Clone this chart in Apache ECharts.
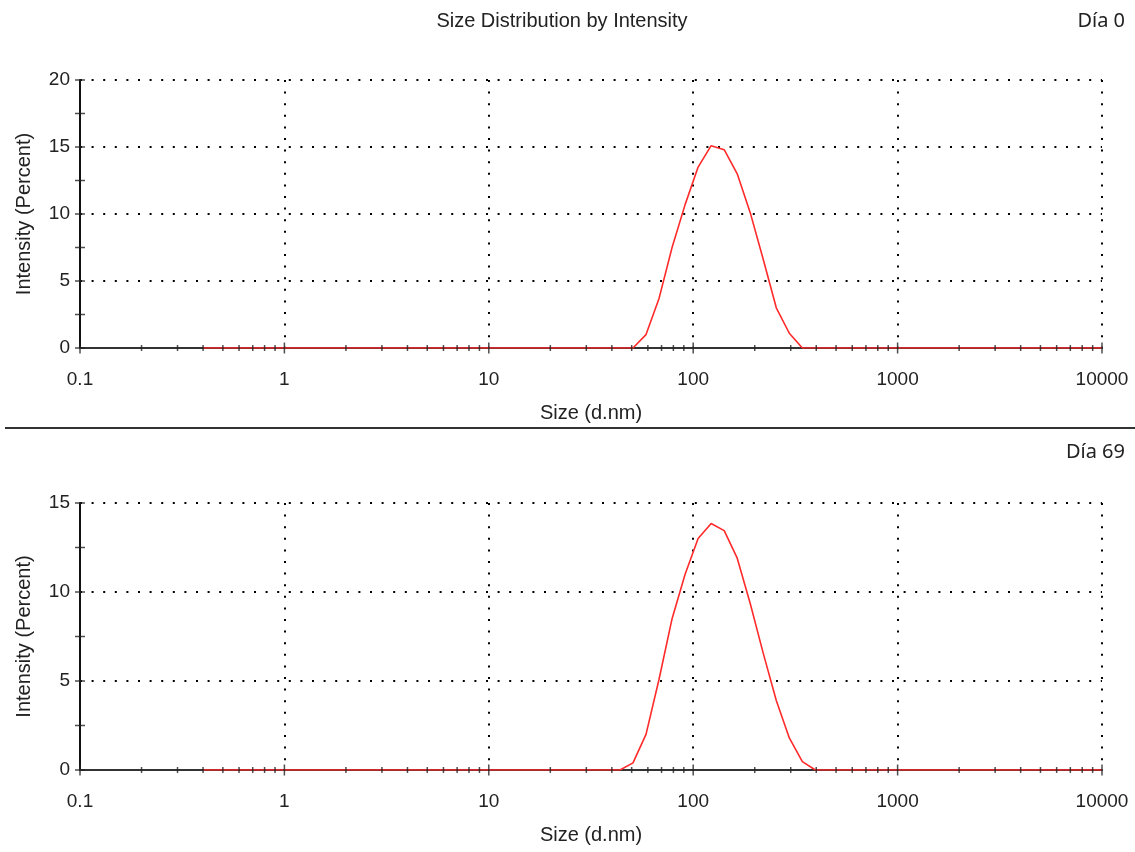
<!DOCTYPE html>
<html>
<head>
<meta charset="utf-8">
<title>Size Distribution by Intensity</title>
<script src="https://cdn.jsdelivr.net/npm/echarts@6/dist/echarts.min.js"></script>
<style>
  html, body { margin: 0; padding: 0; background: #fff; }
  #chart { width: 1135px; height: 852px; }
</style>
</head>
<body>
<div id="chart"></div>
<script>
// Zetasizer size classes (d.nm)
var sizeBins = [
  0.4, 0.4632, 0.5365, 0.6213, 0.7195, 0.8332, 0.9649, 1.117, 1.294, 1.499,
  1.736, 2.01, 2.328, 2.696, 3.122, 3.615, 4.187, 4.849, 5.615, 6.503,
  7.531, 8.721, 10.1, 11.7, 13.54, 15.69, 18.17, 21.04, 24.36, 28.21,
  32.67, 37.84, 43.82, 50.75, 58.77, 68.06, 78.82, 91.28, 105.7, 122.4,
  141.8, 164.2, 190.1, 220.2, 255.0, 295.3, 342.0, 396.1, 458.7, 531.2,
  615.1, 712.4, 825.0, 955.4, 1106, 1281, 1484, 1718, 1990, 2305,
  2669, 3091, 3580, 4145, 4801, 5560, 6439, 7456, 8635, 10000
];

// intensity (%) per size class
var intensityDay0 = [
  0, 0, 0, 0, 0, 0, 0, 0, 0, 0,
  0, 0, 0, 0, 0, 0, 0, 0, 0, 0,
  0, 0, 0, 0, 0, 0, 0, 0, 0, 0,
  0, 0, 0, 0, 1.0, 3.7, 7.5, 10.7, 13.5, 15.1,
  14.8, 13.0, 10.1, 6.6, 3.0, 1.1, 0, 0, 0, 0,
  0, 0, 0, 0, 0, 0, 0, 0, 0, 0,
  0, 0, 0, 0, 0, 0, 0, 0, 0, 0
];

var intensityDay69 = [
  0, 0, 0, 0, 0, 0, 0, 0, 0, 0,
  0, 0, 0, 0, 0, 0, 0, 0, 0, 0,
  0, 0, 0, 0, 0, 0, 0, 0, 0, 0,
  0, 0, 0, 0.4, 2.0, 5.1, 8.5, 11.0, 13.0, 13.85,
  13.45, 11.9, 9.35, 6.55, 3.9, 1.8, 0.47, 0, 0, 0,
  0, 0, 0, 0, 0, 0, 0, 0, 0, 0,
  0, 0, 0, 0, 0, 0, 0, 0, 0, 0
];

var xMajorTicks = [0.1, 1, 10, 100, 1000, 10000];
var xMinorTicks = [
  0.2, 0.3, 0.4, 0.5, 0.6, 0.7, 0.8, 0.9,
  2, 3, 4, 5, 6, 7, 8, 9,
  20, 30, 40, 50, 60, 70, 80, 90,
  200, 300, 400, 500, 600, 700, 800, 900,
  2000, 3000, 4000, 5000, 6000, 7000, 8000, 9000
];
var yTicksDay0 = [0, 2.5, 5, 7.5, 10, 12.5, 15, 17.5, 20];
var yTicksDay69 = [0, 2.5, 5, 7.5, 10, 12.5, 15];

var FONT = "'Liberation Sans', Arial, sans-serif";
var TEXT = "#222";

var dotted = { color: "#000", width: 2, type: [2, 9.6] };

function makeX(idx) {
  return {
    type: "log",
    logBase: 10,
    gridIndex: idx,
    min: 0.1,
    max: 10000,
    name: "Size (d.nm)",
    nameLocation: "middle",
    nameGap: 55,
    nameTextStyle: { fontFamily: FONT, fontSize: 20, color: TEXT },
    axisLine: { lineStyle: { color: "#333", width: 2 } },
    axisTick: { show: false },
    axisLabel: {
      fontFamily: FONT, fontSize: 19, color: TEXT, margin: 22,
      formatter: function (v) { return String(+Number(v).toPrecision(6)); }
    },
    splitLine: { show: true, lineStyle: dotted },
    minorTick: { show: false }
  };
}

function makeY(idx, max) {
  return {
    type: "value",
    gridIndex: idx,
    min: 0,
    max: max,
    interval: 5,
    name: "Intensity (Percent)",
    nameLocation: "middle",
    nameGap: 46,
    nameTextStyle: { fontFamily: FONT, fontSize: 20, color: TEXT },
    axisLine: { show: true, lineStyle: { color: "#111", width: 2 } },
    axisTick: { show: false },
    axisLabel: { fontFamily: FONT, fontSize: 19, color: TEXT, margin: 10 },
    splitLine: { show: true, lineStyle: dotted }
  };
}

function zip(xs, ys) {
  return xs.map(function (x, i) { return [x, ys[i]]; });
}

function tickSeries(idx, data, size) {
  return {
    type: "scatter",
    xAxisIndex: idx,
    yAxisIndex: idx,
    data: data,
    symbol: "rect",
    symbolSize: size,
    itemStyle: { color: "#222" },
    silent: true,
    clip: false,
    z: 5
  };
}

function lineSeries(idx, values) {
  return {
    type: "line",
    xAxisIndex: idx,
    yAxisIndex: idx,
    data: zip(sizeBins, values),
    symbol: "none",
    lineStyle: { color: "#ff2a2a", width: 1.6 },
    itemStyle: { color: "#ff2a2a" },
    z: 3
  };
}

var chart = echarts.init(document.getElementById("chart"));

chart.setOption({
  animation: false,
  backgroundColor: "#fff",
  grid: [
    { left: 80, right: 33, top: 80, height: 268 },
    { left: 80, right: 33, top: 503, height: 267 }
  ],
  xAxis: [makeX(0), makeX(1)],
  yAxis: [makeY(0, 20), makeY(1, 15)],
  graphic: [
    {
      type: "text", x: 562, y: 21,
      style: { text: "Size Distribution by Intensity", fontFamily: FONT, fontSize: 20,
               fill: TEXT, align: "center", verticalAlign: "middle" }
    },
    {
      type: "text", x: 1125, y: 21,
      style: { text: "Día 0", fontFamily: "'Noto Sans', sans-serif", fontSize: 20,
               fill: TEXT, align: "right", verticalAlign: "middle" }
    },
    {
      type: "line",
      shape: { x1: 5, y1: 428, x2: 1135, y2: 428 },
      style: { stroke: "#333", lineWidth: 2 }
    },
    {
      type: "text", x: 1125, y: 452,
      style: { text: "Día 69", fontFamily: "'Noto Sans', sans-serif", fontSize: 20,
               fill: TEXT, align: "right", verticalAlign: "middle" }
    }
  ],
  series: [
    lineSeries(0, intensityDay0),
    lineSeries(1, intensityDay69),
    tickSeries(0, xMajorTicks.map(function (v) { return [v, 0]; }), [1.5, 11]),
    tickSeries(0, xMinorTicks.map(function (v) { return [v, 0]; }), [1.5, 6]),
    tickSeries(0, yTicksDay0.map(function (v) { return [0.1, v]; }), [10, 1.5]),
    tickSeries(1, xMajorTicks.map(function (v) { return [v, 0]; }), [1.5, 11]),
    tickSeries(1, xMinorTicks.map(function (v) { return [v, 0]; }), [1.5, 6]),
    tickSeries(1, yTicksDay69.map(function (v) { return [0.1, v]; }), [10, 1.5])
  ]
});
</script>
</body>
</html>
